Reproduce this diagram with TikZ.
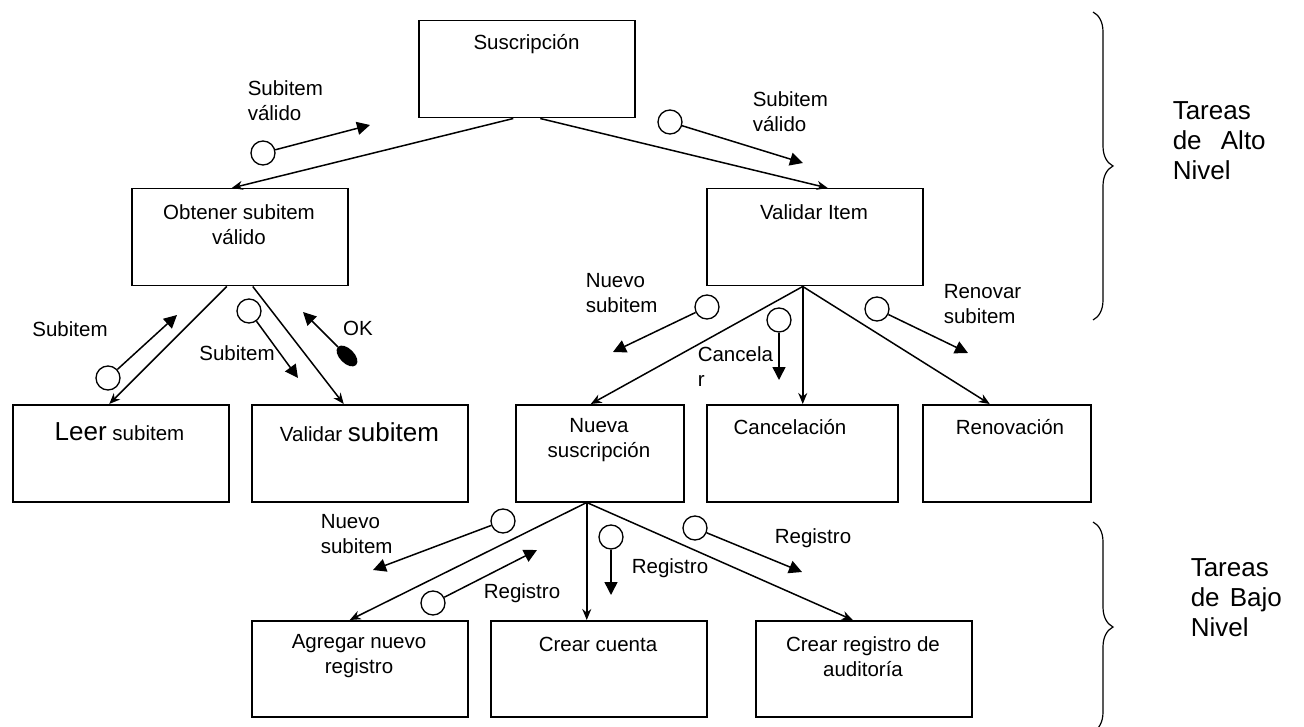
\documentclass[tikz,border=0pt]{standalone}
\usepackage{fontspec}
\setmainfont{Liberation Sans}
\usetikzlibrary{arrows.meta,shapes.geometric,decorations.pathreplacing}
\newcommand{\grande}{\fontsize{26}{30}\selectfont}

\begin{document}
\begin{tikzpicture}[x=1pt,y=-1pt,line width=1.5pt,
  font=\fontsize{20.5}{25}\selectfont,
  task/.style={draw,anchor=north west,minimum width=216pt,minimum height=97pt,inner sep=0pt},
  title/.style={align=center,inner sep=0pt},
  lbl/.style={align=left,inner sep=0pt,anchor=west},
  msg/.style={circle,draw,fill=white,minimum size=24pt,inner sep=0pt,line width=1.3pt},
  conn/.style={-{Stealth[length=11pt,width=9pt]}},
  flow/.style={-{Triangle[length=13pt,width=13pt]}},
  side/.style={align=left,inner sep=0pt,anchor=west,font=\fontsize{26}{30}\selectfont}]
\useasboundingbox (0,0) rectangle (1304,727);
% ---------- boxes ----------
\node[task] (susc) at (418,20) {};
\node[task] (obtener) at (131,188) {};
\node[task] (validar) at (706,188) {};
\node[task] (leer) at (12,404) {};
\node[task] (valsub) at (251,404) {};
\node[task,minimum width=168pt] (nueva) at (515,404) {};
\node[task,minimum width=191pt] (cancel) at (706,404) {};
\node[task,minimum width=168pt] (renov) at (922,404) {};
\node[task,minimum height=96pt] (agregar) at (251,620) {};
\node[task,minimum height=96pt] (cuenta) at (490,620) {};
\node[task,minimum height=96pt] (audit) at (755,620) {};
% box titles
\node[title] (susc-t) at (526.5,44) {Suscripción};
\node[title] (obtener-t) at (239,224.5) {Obtener subitem\\válido};
\node[title] (validar-t) at (814,212) {Validar Item};
\node[title] (leer-t) at (119.5,432) {{\grande Leer} subitem};
\node[title] (valsub-t) at (359.5,432) {Validar {\grande subitem}};
\node[title] (nueva-t) at (599,440) {Nueva\\suscripción};
\node[title] (cancel-t) at (790,427.5) {Cancelación};
\node[title] (renov-t) at (1010,427.5) {Renovación};
\node[title] (agregar-t) at (359,656.5) {Agregar nuevo\\registro};
\node[title] (cuenta-t) at (598,644.5) {Crear cuenta};
\node[title] (audit-t) at (863,656.5) {Crear registro de\\auditoría};
% ---------- connectors ----------
\draw[conn] ([xshift=-13.5pt]susc.south) -- ([xshift=-8pt]obtener.north);
\draw[conn] ([xshift=13.5pt]susc.south) -- ([xshift=13pt]validar.north);
\draw[conn] ([xshift=-13pt]obtener.south) -- ([xshift=-11.5pt]leer.north);
\draw[conn] ([xshift=13pt]obtener.south) -- ([xshift=-16pt]valsub.north);
\draw[conn] ([xshift=-12pt]validar.south) -- ([xshift=-9pt]nueva.north);
\draw[conn] ([xshift=-12pt]validar.south) -- ([xshift=-12pt]validar.south |- cancel.north);
\draw[conn] ([xshift=-12pt]validar.south) -- ([xshift=-17pt]renov.north);
\draw[conn] ([xshift=-13pt]nueva.south) -- ([xshift=-10pt]agregar.north);
\draw[conn] ([xshift=-13pt]nueva.south) -- ([xshift=-13pt]nueva.south |- cuenta.north);
\draw[conn] ([xshift=-13pt]nueva.south) -- ([xshift=-11pt]audit.north);
% ---------- messages ----------
\node[msg] (m1) at (263,153) {};
\coordinate (m1t) at (370,125);
\draw[flow] (m1) -- (m1t);
\node[lbl] (m1l) at (247,101) {Subitem\\válido};
\node[msg] (m2) at (670,122) {};
\coordinate (m2t) at (803,163);
\draw[flow] (m2) -- (m2t);
\node[lbl] (m2l) at (752,111.5) {Subitem\\válido};
\node[msg] (m3) at (108,378) {};
\coordinate (m3t) at (177,315);
\draw[flow] (m3) -- (m3t);
\node[title] (m3l) at (70,329) {Subitem};
\node[msg] (m4) at (249,311) {};
\coordinate (m4t) at (298,378);
\draw[flow] (m4) -- (m4t);
\node[title] (m4l) at (237,353) {Subitem};
\node[ellipse,draw,fill,minimum width=13pt,minimum height=24pt,inner sep=0pt,rotate=45] (ok) at (347,356) {};
\coordinate (okt) at (303,312);
\draw[flow] (ok) -- (okt);
\node[title] (okl) at (358,328) {OK};
\node[msg] (m6) at (707,307) {};
\coordinate (m6t) at (613,352);
\draw[flow] (m6) -- (m6t);
\node[lbl] (m6l) at (585,293) {Nuevo\\subitem};
\node[msg] (m7) at (779,320) {};
\coordinate (m7t) at (779,380);
\draw[flow] (m7) -- (m7t);
\node[lbl] (m7l) at (697,366.5) {Cancela\\r};
\node[msg] (m8) at (877,309) {};
\coordinate (m8t) at (968,353);
\draw[flow] (m8) -- (m8t);
\node[lbl] (m8l) at (943,304.5) {Renovar\\subitem};
% lower level
\node[msg] (m9) at (503,521) {};
\coordinate (m9t) at (373,570);
\draw[flow] (m9) -- (m9t);
\node[lbl] (m9l) at (320,534) {Nuevo\\subitem};
\node[msg] (m10) at (433,603) {};
\coordinate (m10t) at (537,550);
\draw[flow] (m10) -- (m10t);
\node[title] (m10l) at (522,593) {Registro};
\node[msg] (m11) at (611,537) {};
\coordinate (m11t) at (611,595);
\draw[flow] (m11) -- (m11t);
\node[title] (m11l) at (670,568) {Registro};
\node[msg] (m12) at (695,528) {};
\coordinate (m12t) at (802,572);
\draw[flow] (m12) -- (m12t);
\node[title] (m12l) at (813,538) {Registro};
% ---------- braces ----------
\draw[line width=1.2pt,decorate,decoration={brace,amplitude=20pt}] (1093,12) -- (1093,320);
\node[side] (alto) at (1172,141) {Tareas\\de\hspace{12pt} Alto\\Nivel};
\draw[line width=1.2pt,decorate,decoration={brace,amplitude=20pt}] (1093,522) -- (1093,732);
\node[side] (bajo) at (1190,598) {Tareas\\de\hspace{3pt} Bajo\\Nivel};
\end{tikzpicture}
\end{document}
